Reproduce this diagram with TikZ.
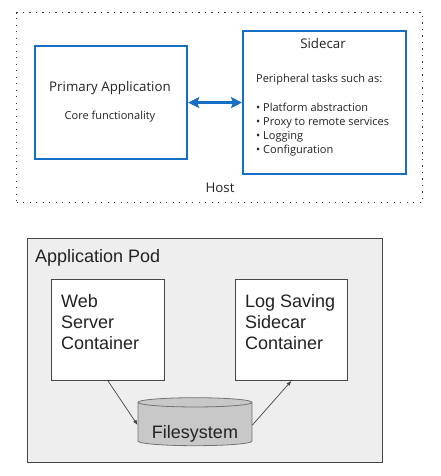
\documentclass[tikz,border=0pt]{standalone}
\usepackage{fontspec}
\setmainfont{Liberation Sans}
\newfontfamily\segoe{Open Sans}
\usetikzlibrary{shapes.geometric,arrows.meta}
\definecolor{hostblue}{RGB}{21,111,198}
\definecolor{podgray}{RGB}{238,238,238}
\definecolor{fsgray}{RGB}{200,200,200}
\definecolor{edgegray}{RGB}{70,70,70}
\definecolor{inkgray}{RGB}{34,34,34}
\begin{document}
\begin{tikzpicture}[x=1pt,y=-1pt]
        \tikzstyle{bluebox} = [rectangle, draw=hostblue, line width=2.2pt, anchor=north west, inner sep=0pt]
        \tikzstyle{graybox} = [rectangle, draw=edgegray, line width=0.8pt, anchor=north west, inner sep=0pt]
        \tikzstyle{toptext} = [inner sep=0pt, text=inkgray, font=\segoe\fontsize{11}{14}\selectfont]
        \tikzstyle{bigtext} = [inner sep=0pt, text=inkgray, font=\segoe\fontsize{13.3}{15}\selectfont]
        \tikzstyle{podtext} = [inner sep=0pt, text=inkgray, align=left, font=\fontsize{18}{21}\selectfont]
        \tikzstyle{biarrow} = [{Stealth[length=11pt,width=11pt,inset=2pt]}-{Stealth[length=11pt,width=11pt,inset=2pt]},draw=hostblue,line width=2.4pt]
        \tikzstyle{line} = [-{Latex[length=5pt,width=4pt]},draw=edgegray,line width=.7pt]
        \useasboundingbox (0,0) rectangle (441,476);
        % host with primary application and sidecar
        \node[rectangle, draw=black!80, line width=1.3pt, dash pattern=on 1.3pt off 5.2pt, anchor=north west, minimum width=406pt, minimum height=190pt] (host) at (16,12) {};
        \node[bluebox, minimum width=152pt, minimum height=113pt] (primary) at (34,45) {};
        \node[bluebox, minimum width=163pt, minimum height=143pt] (sidecar) at (242,30) {};
        \node[bigtext] (primtitle) at (110,88) {Primary Application};
        \node[toptext] (primsub) at (110,117) {Core functionality};
        \node[bigtext] (sidetitle) at (323,44) {Sidecar};
        \node[toptext, anchor=west] (sidetasks) at (256,80) {Peripheral tasks such as:};
        \node[toptext, anchor=north west, align=left] (sidelist) at (256,102.5) {• Platform abstraction\\• Proxy to remote services\\• Logging\\• Configuration};
        \node[bigtext] (hostlabel) at (220,188) {Host};
        \draw[biarrow] (primary.east) -- (sidecar.west);
        % application pod
        \node[graybox, fill=podgray, minimum width=355pt, minimum height=224pt] (pod) at (27,238) {};
        \node[podtext, anchor=west] (podlabel) at (35,258) {Application Pod};
        \node[graybox, fill=white, minimum width=113pt, minimum height=101pt] (web) at (51,279) {};
        \node[graybox, fill=white, minimum width=112pt, minimum height=101pt] (log) at (235,279) {};
        \node[podtext, anchor=north west] (webtxt) at (61,294) {Web\\Server\\Container};
        \node[podtext, anchor=north west] (logtxt) at (245,294) {Log Saving\\Sidecar\\Container};
        \node[cylinder, shape border rotate=90, aspect=0.1, draw=black!55, fill=fsgray, line width=.8pt, minimum width=114pt, minimum height=48pt, text=inkgray, text height=26pt, text depth=0pt, font=\fontsize{18}{21}\selectfont] (filesystem) at (195,425) {Filesystem};
        \draw[line] (web.south) -- (filesystem.west);
        \draw[line] (filesystem.east) -- (log.south);
    \end{tikzpicture}
\end{document}
